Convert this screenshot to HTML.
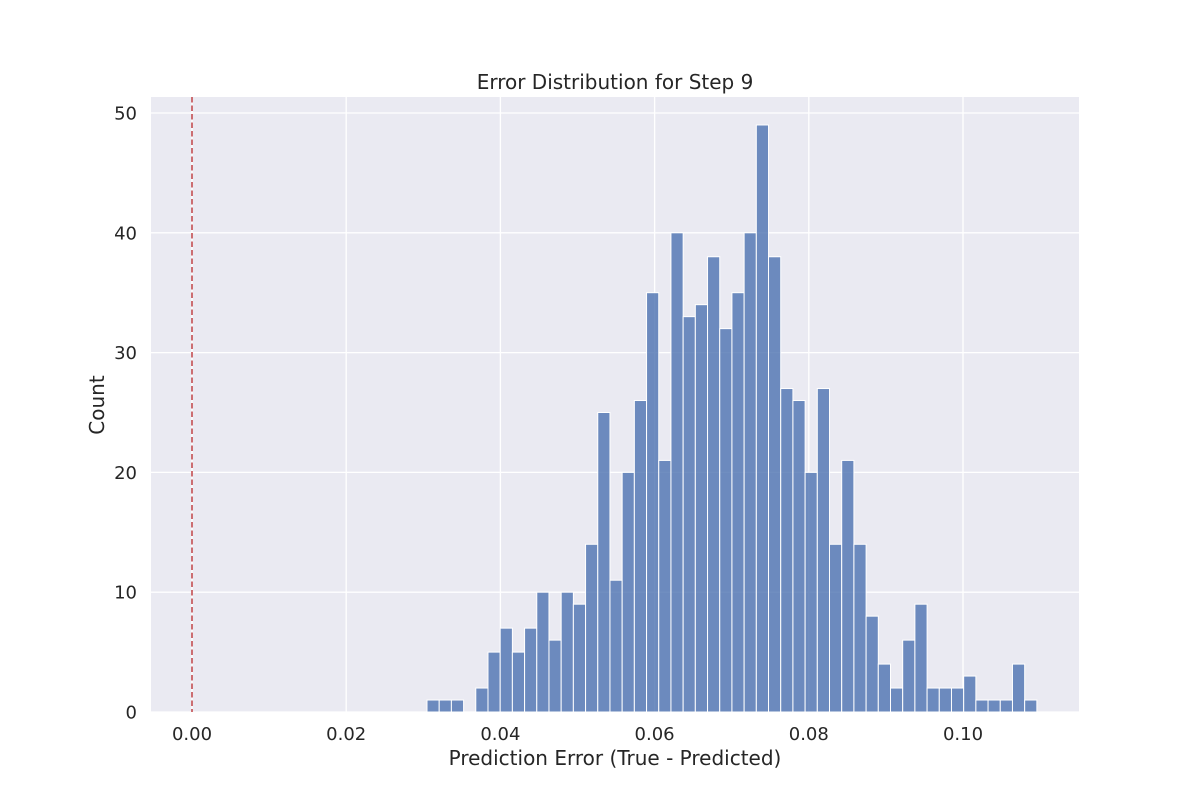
<!DOCTYPE html>
<html><head><meta charset="utf-8"><style>
body{margin:0;background:#fff;}
svg text{font-family:"DejaVu Sans","Liberation Sans",sans-serif;fill:#262626;}
</style></head><body>
<svg id="chart" width="1200" height="800" xmlns="http://www.w3.org/2000/svg">
<rect x="151" y="97" width="928" height="615" fill="#eaeaf2"/>
<g id="grid"></g><g id="bars"></g><g id="ticks"></g>
<line id="zline" y1="97" y2="712" stroke="#c44e52" stroke-width="1.6" stroke-dasharray="5.5,3"/>
<text x="615" y="89" font-size="20" text-anchor="middle">Error Distribution for Step 9</text>
<text x="615" y="765" font-size="20" text-anchor="middle">Prediction Error (True - Predicted)</text>
<text transform="translate(104,405) rotate(-90)" font-size="20" text-anchor="middle">Count</text>
</svg>
<script>
const counts=[1,1,1,0,2,5,7,5,7,10,6,10,9,14,25,11,20,26,35,21,40,33,34,38,32,35,40,49,38,27,26,20,27,14,21,14,8,4,2,6,9,2,2,2,3,1,1,1,4,1];
const binStart=0.03048, binWidth=0.001582;
const xTicks=[0,0.02,0.04,0.06,0.08,0.10];
const xTickLabels=["0.00","0.02","0.04","0.06","0.08","0.10"];
const yTicks=[0,10,20,30,40,50];
const X=v=>192+v*7710, Y=v=>712-v*11.98;
const NS="http://www.w3.org/2000/svg";
function mk(tag,attrs,parent,txt){const e=document.createElementNS(NS,tag);for(const k in attrs)e.setAttribute(k,attrs[k]);if(txt!==undefined)e.textContent=txt;document.getElementById(parent).appendChild(e);return e;}
xTicks.forEach((t,i)=>{
 const g=mk('line',{x1:X(t),x2:X(t),y1:97,y2:712,stroke:'#fff','stroke-width':1.3},'grid');
 
 
 const l=mk('text',{x:X(t),y:740,'font-size':18,'text-anchor':'middle'},'ticks',xTickLabels[i]);
 
 
});
yTicks.forEach(t=>{
 const g=mk('line',{x1:151,x2:1079,y1:Y(t),y2:Y(t),stroke:'#fff','stroke-width':1.3},'grid');
 
 
 const l=mk('text',{x:137,y:Y(t)+6.5,'font-size':18,'text-anchor':'end'},'ticks',String(t));
 
 
});
counts.forEach((c,i)=>{
 if(!c)return;
 const x0=X(binStart+i*binWidth),x1=X(binStart+(i+1)*binWidth);
 const b=mk('rect',{x:x0,y:Y(c),width:x1-x0,height:Y(0)-Y(c),fill:'#4c72b0','fill-opacity':0.8,stroke:'#fff','stroke-width':1},'bars');
 
 
});
const z=document.getElementById('zline');z.setAttribute('x1',X(0));z.setAttribute('x2',X(0));
</script>
</body></html>
